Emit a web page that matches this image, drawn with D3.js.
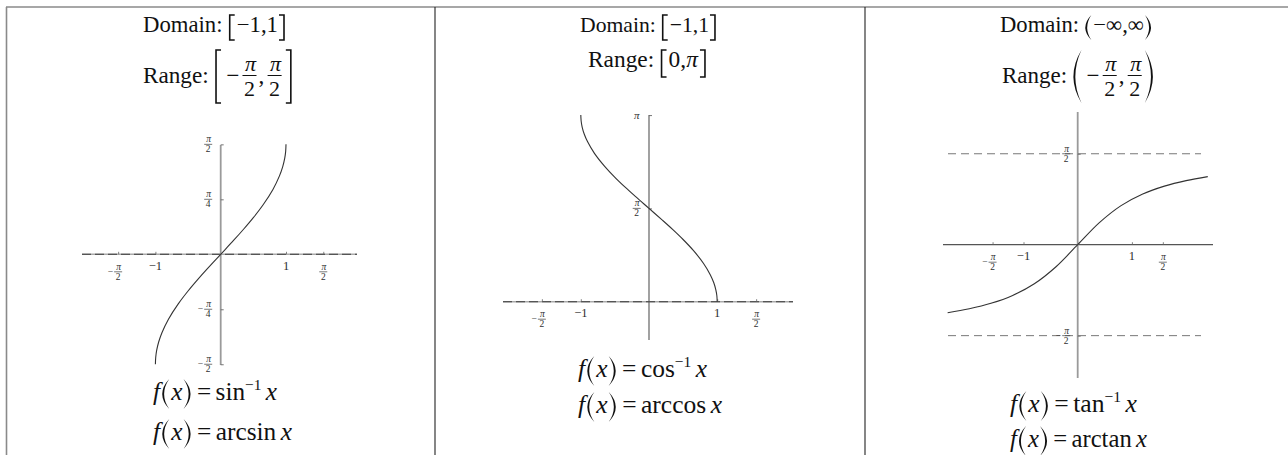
<!DOCTYPE html>
<html>
<head>
<meta charset="utf-8">
<script src="https://cdn.jsdelivr.net/npm/d3@7"></script>
<style>
  html, body { margin: 0; padding: 0; background: #fff; }
  svg { display: block; }
  text { font-family: "Liberation Serif", "Times New Roman", serif; fill: #111; }
  .ticklabels { opacity: 0.9; }
</style>
</head>
<body>
<svg id="chart" width="1288" height="455"></svg>
<script>
const PI = Math.PI;

// Sample points of the three inverse trigonometric curves
const trigX = [-1, -0.995, -0.98, -0.95, -0.9, -0.8, -0.65, -0.5, -0.35, -0.2, 0,
               0.2, 0.35, 0.5, 0.65, 0.8, 0.9, 0.95, 0.98, 0.995, 1];
const arcsinY = [-1.571, -1.471, -1.370, -1.253, -1.120, -0.927, -0.708, -0.524, -0.358, -0.201, 0,
                 0.201, 0.358, 0.524, 0.708, 0.927, 1.120, 1.253, 1.370, 1.471, 1.571];
const arccosY = [3.142, 3.042, 2.941, 2.824, 2.691, 2.498, 2.279, 2.094, 1.928, 1.772, 1.571,
                 1.369, 1.213, 1.047, 0.863, 0.644, 0.451, 0.318, 0.200, 0.100, 0];
const arctanX = [-2.4, -2.0, -1.6, -1.2, -0.8, -0.4, 0, 0.4, 0.8, 1.2, 1.6, 2.0, 2.4];
const arctanY = [-1.176, -1.107, -1.012, -0.876, -0.675, -0.381, 0, 0.381, 0.675, 0.876, 1.012, 1.107, 1.176];

// Tick values and their labels
const xTickVals = [-PI / 2, -1, 1, PI / 2];
const xTickLabels = ["−π/2", "−1", "1", "π/2"];
const sinYTickVals = [PI / 2, PI / 4, -PI / 4, -PI / 2];
const sinYTickLabels = ["π/2", "π/4", "−π/4", "−π/2"];
const cosYTickVals = [PI, PI / 2];
const cosYTickLabels = ["π", "π/2"];
const tanYTickVals = [PI / 2, -PI / 2];
const tanYTickLabels = ["π/2", "−π/2"];
const asymptoteVals = [PI / 2, -PI / 2];

const svg = d3.select("#chart");

// ---- table frame ----
const frame = svg.append("g");
frame.append("line").attr("x1", 6).attr("x2", 1288).attr("y1", 7).attr("y2", 7)
  .attr("stroke", "#8a8a8a").attr("stroke-width", 1.6);
frame.append("line").attr("x1", 6.5).attr("x2", 6.5).attr("y1", 7).attr("y2", 455)
  .attr("stroke", "#8a8a8a").attr("stroke-width", 1.6);
[435, 865].forEach(x => {
  frame.append("line").attr("x1", x).attr("x2", x).attr("y1", 7).attr("y2", 455)
    .attr("stroke", "#222").attr("stroke-width", 1.1);
});

// ---- typeset helpers ----
function bracketPath(ch, x0, top, bot) {
  const w = 6;
  if (ch === "[") return `M${x0 + w},${top}H${x0 + 1}V${bot}H${x0 + w}`;
  return `M${x0},${top}H${x0 + w - 1}V${bot}H${x0}`;
}
function parenPath(ch, x0, top, bot, w) {
  const m = (top + bot) / 2, th = 1.9;
  if (ch === "(") {
    return `M${x0 + w},${top}Q${x0 - w},${m} ${x0 + w},${bot}` +
           `Q${x0 - w + 2 * th},${m} ${x0 + w},${top}Z`;
  }
  return `M${x0},${top}Q${x0 + 2 * w},${m} ${x0},${bot}` +
         `Q${x0 + 2 * w - 2 * th},${m} ${x0},${top}Z`;
}

// lays pieces left to right; k scales font sizes and gaps
function typeset(g, x, base, pieces, fs, k) {
  let cx = x;
  pieces.forEach(p => {
    if (p.sp !== undefined) { cx += p.sp * k; return; }
    if (p.br) {
      g.append("path").attr("d", bracketPath(p.br, cx, p.top, p.bot))
        .attr("fill", "none").attr("stroke", "#111").attr("stroke-width", 1.6);
      cx += 7; return;
    }
    if (p.pa) {
      const w = p.w || 6;
      g.append("path").attr("d", parenPath(p.pa, cx, p.top, p.bot, w)).attr("fill", "#111");
      cx += w + 2; return;
    }
    if (p.fr) {
      const barY = base - 7.5;
      const num = g.append("text").attr("font-size", fs).attr("font-style", "italic")
        .attr("text-anchor", "middle").attr("y", barY - 5).text(p.fr[0]);
      const den = g.append("text").attr("font-size", fs)
        .attr("text-anchor", "middle").attr("y", barY + 20).text(p.fr[1]);
      const w = Math.max(num.node().getComputedTextLength(), den.node().getComputedTextLength()) + 3;
      num.attr("x", cx + w / 2 + 1);
      den.attr("x", cx + w / 2);
      g.append("line").attr("x1", cx).attr("x2", cx + w).attr("y1", barY).attr("y2", barY)
        .attr("stroke", "#111").attr("stroke-width", 1);
      cx += w; return;
    }
    const t = g.append("text").attr("x", cx).attr("y", base + (p.dy || 0))
      .attr("font-size", (p.fs || fs) * k)
      .attr("font-style", p.it ? "italic" : "normal").text(p.t);
    cx += t.node().getComputedTextLength();
  });
  return cx;
}

// sets a line so that it spans from x0 to x1
function typesetSpan(parent, x0, x1, base, pieces, fs) {
  let k = 1;
  for (let i = 0; i < 3; i++) {
    const tmp = parent.append("g");
    const end = typeset(tmp, x0, base, pieces, fs, k);
    tmp.remove();
    k *= (x1 - x0) / (end - x0);
  }
  typeset(parent.append("g"), x0, base, pieces, fs, k);
}

// ---- header lines: domain and range ----
const hdr = svg.append("g");
const HF = 22;
typesetSpan(hdr, 143, 286, 32, [{ t: "Domain:" }, { sp: 6 }, { br: "[", top: 15, bot: 40 }, { sp: 1 }, { t: "−1,1" }, { sp: 1 }, { br: "]", top: 15, bot: 40 }], HF);
typesetSpan(hdr, 143, 293, 83, [{ t: "Range:" }, { sp: 6 }, { br: "[", top: 50, bot: 103 }, { sp: 4 }, { t: "−" }, { sp: 3 },
  { fr: ["π", "2"] }, { sp: 2 }, { t: "," }, { sp: 3 }, { fr: ["π", "2"] }, { sp: 4 }, { br: "]", top: 50, bot: 103 }], HF);

typesetSpan(hdr, 580, 717, 32, [{ t: "Domain:" }, { sp: 6 }, { br: "[", top: 15, bot: 40 }, { sp: 1 }, { t: "−1,1" }, { sp: 1 }, { br: "]", top: 15, bot: 40 }], HF);
typesetSpan(hdr, 588, 707, 67, [{ t: "Range:" }, { sp: 6 }, { br: "[", top: 50, bot: 77 }, { sp: 1 }, { t: "0," }, { t: "π", it: true }, { sp: 2 },
  { br: "]", top: 50, bot: 77 }], HF);

typesetSpan(hdr, 1000, 1153, 32, [{ t: "Domain:" }, { sp: 6 }, { pa: "(", top: 15, bot: 40, w: 6 }, { t: "−∞,∞" }, { sp: 1 }, { pa: ")", top: 15, bot: 40, w: 6 }], HF);
typesetSpan(hdr, 1002, 1155, 83, [{ t: "Range:" }, { sp: 6 }, { pa: "(", top: 50, bot: 103, w: 8 }, { sp: 3 }, { t: "−" }, { sp: 3 },
  { fr: ["π", "2"] }, { sp: 2 }, { t: "," }, { sp: 3 }, { fr: ["π", "2"] }, { sp: 3 }, { pa: ")", top: 50, bot: 103, w: 8 }], HF);

// ---- function formulas ----
function formula(x0, x1, base, name, sup) {
  const pieces = [{ t: "f", it: true }, { sp: 2 }, { pa: "(", top: base - 21, bot: base + 9, w: 7 },
    { t: "x", it: true }, { sp: 1 }, { pa: ")", top: base - 21, bot: base + 9, w: 7 }, { sp: 4 },
    { t: "=" }, { sp: 4 }, { t: name }];
  if (sup) pieces.push({ t: "−1", fs: 14, dy: -10 }, { sp: 4 });
  else pieces.push({ sp: 4 });
  pieces.push({ t: "x", it: true });
  typesetSpan(hdr, x0, x1, base, pieces, 23);
}
formula(153, 277, 400, "sin", true);
formula(153, 292, 440, "arcsin", false);
formula(578, 707, 377, "cos", true);
formula(578, 722, 413, "arccos", false);
formula(1010, 1137, 412, "tan", true);
formula(1010, 1147, 447, "arctan", false);

// ---- plots ----
const panels = [
  { ox: 220.7, oy: 254.3, kx: 65.3, ky: 70.0, xSpan: [82, 357], ySpan: [145, 365],
    xs: trigX, ys: arcsinY, yTicks: sinYTickVals, yLabels: sinYTickLabels,
    dashedX: true, yColor: "#9a9a9a", yWidth: 1.8, oneColor: "#3f6aa6", yLabDx: -12.5, asym: false },
  { ox: 649, oy: 301.7, kx: 68.2, ky: 59.4, xSpan: [503, 793], ySpan: [115, 340],
    xs: trigX, ys: arccosY, yTicks: cosYTickVals, yLabels: cosYTickLabels,
    dashedX: true, yColor: "#555", yWidth: 1.1, oneColor: "#3f6aa6", yLabDx: -12.3, asym: false },
  { ox: 1077.7, oy: 244.7, kx: 54.2, ky: 57.9, xSpan: [943, 1213], ySpan: [112, 378],
    xs: arctanX, ys: arctanY, yTicks: tanYTickVals, yLabels: tanYTickLabels,
    dashedX: false, yColor: "#9a9a9a", yWidth: 1.8, oneColor: "#333", yLabDx: -11.5, asym: true, asymSpan: [948, 1201] }
];

function tickLabel(g, x, y, lab, color) {
  if (lab.includes("/")) {
    const neg = lab.startsWith("−");
    const [n, d] = lab.replace("−", "").split("/");
    g.append("text").attr("x", x + 0.5).attr("y", y - 2).attr("font-size", 9.5).attr("font-style", "italic")
      .attr("text-anchor", "middle").attr("fill", "#222").text(n);
    g.append("text").attr("x", x).attr("y", y + 8).attr("font-size", 9.5)
      .attr("text-anchor", "middle").attr("fill", "#222").text(d);
    g.append("line").attr("x1", x - 4).attr("x2", x + 4).attr("y1", y).attr("y2", y)
      .attr("stroke", "#444").attr("stroke-width", 0.8);
    if (neg) {
      g.append("text").attr("x", x - 5).attr("y", y + 3).attr("font-size", 9.5)
        .attr("text-anchor", "end").attr("fill", "#222").text("−");
    }
  } else if (lab === "π") {
    g.append("text").attr("x", x).attr("y", y + 3.5).attr("font-size", 11).attr("font-style", "italic")
      .attr("text-anchor", "middle").attr("fill", "#222").text(lab);
  } else {
    g.append("text").attr("x", x).attr("y", y + 4.5).attr("font-size", 12.5)
      .attr("text-anchor", "middle").attr("fill", color).text(lab);
  }
}

panels.forEach(p => {
  const g = svg.append("g");
  const x = d3.scaleLinear().domain([0, 1]).range([p.ox, p.ox + p.kx]);
  const y = d3.scaleLinear().domain([0, 1]).range([p.oy, p.oy - p.ky]);

  // horizontal axis line
  if (p.dashedX) {
    g.append("line").attr("x1", p.xSpan[0]).attr("x2", p.xSpan[1]).attr("y1", p.oy).attr("y2", p.oy)
      .attr("stroke", "#aaa").attr("stroke-width", 1.5);
    g.append("line").attr("x1", p.xSpan[0]).attr("x2", p.xSpan[1]).attr("y1", p.oy).attr("y2", p.oy)
      .attr("stroke", "#3a3a3a").attr("stroke-width", 1.1).attr("stroke-dasharray", "9,4");
  } else {
    g.append("line").attr("x1", p.xSpan[0]).attr("x2", p.xSpan[1]).attr("y1", p.oy).attr("y2", p.oy)
      .attr("stroke", "#555").attr("stroke-width", 1.2);
  }
  // vertical axis line
  g.append("line").attr("x1", p.ox).attr("x2", p.ox).attr("y1", p.ySpan[0]).attr("y2", p.ySpan[1])
    .attr("stroke", p.yColor).attr("stroke-width", p.yWidth);

  // tick marks from d3 axes
  const xa = g.append("g").attr("transform", `translate(0,${p.oy})`)
    .call(d3.axisBottom(x).tickValues(xTickVals).tickSize(-2.5).tickFormat(""));
  xa.select(".domain").remove();
  xa.selectAll(".tick line").attr("stroke", "#666").attr("stroke-width", 0.8);
  const ya = g.append("g").attr("transform", `translate(${p.ox},0)`)
    .call(d3.axisRight(y).tickValues(p.yTicks).tickSize(3).tickFormat(""));
  ya.select(".domain").remove();
  ya.selectAll(".tick line").attr("stroke", "#666").attr("stroke-width", 0.9);

  // horizontal asymptotes
  if (p.asym) {
    asymptoteVals.forEach(v => {
      g.append("line").attr("x1", p.asymSpan[0]).attr("x2", p.asymSpan[1])
        .attr("y1", y(v)).attr("y2", y(v))
        .attr("stroke", "#777").attr("stroke-width", 1).attr("stroke-dasharray", "8,5");
    });
  }

  // tick labels
  const lg = g.append("g").attr("class", "ticklabels");
  xTickVals.forEach((v, i) => {
    const lab = xTickLabels[i];
    const yy = lab.includes("/") ? p.oy + 17.5 : p.oy + 11;
    tickLabel(lg, x(v), yy, lab, lab === "1" ? p.oneColor : "#333");
  });
  p.yTicks.forEach((v, i) => {
    tickLabel(lg, p.ox + p.yLabDx, y(v), p.yLabels[i], "#333");
  });

  // the curve
  const pts = p.xs.map((xv, i) => [xv, p.ys[i]]);
  g.append("path").datum(pts)
    .attr("d", d3.line().x(d => x(d[0])).y(d => y(d[1])).curve(d3.curveCatmullRom.alpha(0.5)))
    .attr("fill", "none").attr("stroke", "#333").attr("stroke-width", 1.1);
});
</script>
</body>
</html>
